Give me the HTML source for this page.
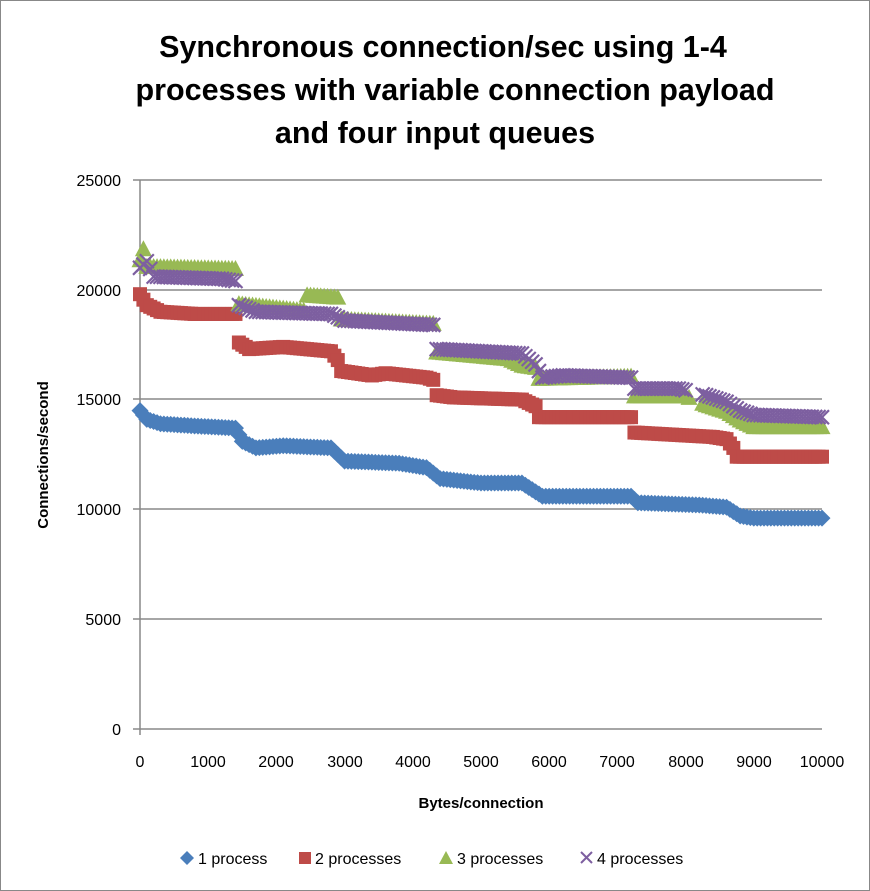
<!DOCTYPE html>
<html><head><meta charset="utf-8"><style>
html,body{margin:0;padding:0;background:#fff;}
svg{display:block;font-family:"Liberation Sans",sans-serif;}
</style></head><body>
<svg id="s" width="870" height="891" viewBox="0 0 870 891" xmlns="http://www.w3.org/2000/svg">
<rect x="0.5" y="0.5" width="869" height="890" fill="#fff" stroke="#888"/>
<g font-weight="bold" font-size="30.5" text-anchor="middle" fill="#000">
<text x="443" y="57">Synchronous connection/sec using 1-4</text>
<text x="455" y="100">processes with variable connection payload</text>
<text x="435" y="143">and four input queues</text>
</g>
<g stroke="#888" stroke-width="1.5">
<line x1="133" y1="180" x2="822" y2="180"/>
<line x1="133" y1="290" x2="822" y2="290"/>
<line x1="133" y1="399" x2="822" y2="399"/>
<line x1="133" y1="509" x2="822" y2="509"/>
<line x1="133" y1="619" x2="822" y2="619"/>
<line x1="133" y1="729" x2="822" y2="729"/>
<line x1="140" y1="180" x2="140" y2="735"/>
</g>
<g font-size="16" fill="#000" text-anchor="end">
<text x="121" y="186">25000</text><text x="121" y="296">20000</text>
<text x="121" y="405">15000</text><text x="121" y="515">10000</text>
<text x="121" y="625">5000</text><text x="121" y="735">0</text>
</g>
<g font-size="16" fill="#000" text-anchor="middle">
<text x="140" y="767">0</text><text x="208" y="767">1000</text><text x="276" y="767">2000</text>
<text x="345" y="767">3000</text><text x="413" y="767">4000</text><text x="481" y="767">5000</text>
<text x="549" y="767">6000</text><text x="617" y="767">7000</text><text x="686" y="767">8000</text>
<text x="754" y="767">9000</text><text x="822" y="767">10000</text>
</g>
<text x="481" y="808" font-size="15" font-weight="bold" text-anchor="middle">Bytes/connection</text>
<text transform="translate(48,455) rotate(-90)" font-size="15" font-weight="bold" text-anchor="middle">Connections/second</text>
<g id="data"></g>
<g font-size="16" fill="#000">
<path d="M187 851 l7 7 -7 7 -7 -7z" fill="#4a7ebb"/><text x="198" y="864">1 process</text>
<rect x="299" y="852" width="12" height="12" fill="#be4b48"/><text x="315" y="864">2 processes</text>
<path d="M446 851 l7 13 h-14z" fill="#98b954"/><text x="457" y="864">3 processes</text>
<path d="M581 852 l11 11 M592 852 l-11 11" stroke="#7d5fa0" stroke-width="2"/><text x="597" y="864">4 processes</text>
</g>
</svg>
<script>
var S=[
{c:"#4a7ebb",t:"d",p:[[0,14500],[100,14100],[300,13900],[800,13800],[1400,13700],[1500,13100],[1700,12800],[2100,12900],[2800,12800],[3000,12200],[3800,12100],[4200,11900],[4400,11400],[5000,11200],[5600,11200],[5900,10600],[7200,10600],[7300,10300],[8200,10200],[8600,10100],[8800,9700],[9000,9600],[10000,9600]]},
{c:"#be4b48",t:"s",p:[[0,19800],[100,19300],[300,19000],[800,18900],[1400,18900],[1450,17600],[1600,17300],[2100,17400],[2800,17200],[2900,16800],[2950,16300],[3400,16100],[3600,16200],[4200,16000],[4300,15900],[4350,15200],[4600,15100],[5600,15000],[5800,14700],[5850,14200],[7200,14200],[7250,13500],[8400,13300],[8600,13200],[8700,12800],[8750,12400],[10000,12400]]},
{c:"#98b954",t:"t",gap:[8050,8250],p:[[0,21300],[50,21800],[100,21000],[1400,20900],[1450,19300],[2400,19000],[2450,19700],[2900,19600],[2950,18600],[4300,18400],[4350,17100],[5400,16800],[5600,16500],[5800,16400],[5850,15900],[7200,16000],[7250,15100],[8000,15100],[8300,14700],[8600,14400],[8800,14000],[9000,13700],[10000,13700]]},
{c:"#7d5fa0",t:"x",gap:[8000,8250],p:[[0,21000],[100,21300],[200,20600],[1200,20500],[1400,20400],[1450,19300],[1700,19000],[2800,18900],[3000,18600],[4300,18400],[4350,17300],[5600,17100],[5800,16600],[5900,16000],[6200,16100],[7200,16000],[7250,15500],[7900,15500],[8300,15200],[8600,14900],[8800,14500],[9000,14300],[10000,14200]]}
];
function val(p,x){for(var i=1;i<p.length;i++){if(x<=p[i][0]){var a=p[i-1],b=p[i];return a[1]+(b[1]-a[1])*(x-a[0])/(b[0]-a[0]);}}return p[p.length-1][1];}
var h="";
S.forEach(function(s){for(var x=0;x<=10000;x+=50){if(s.gap&&x>s.gap[0]&&x<s.gap[1])continue;
var v=val(s.p,x),X=140+x*0.0682,Y=729-v*0.02196;
if(s.t=="d")h+='<path d="M'+X+' '+(Y-8.5)+'l8.5 8.5 -8.5 8.5 -8.5 -8.5z" fill="'+s.c+'"/>';
else if(s.t=="s")h+='<rect x="'+(X-7)+'" y="'+(Y-7)+'" width="14" height="14" fill="'+s.c+'"/>';
else if(s.t=="t")h+='<path d="M'+X+' '+(Y-10)+'l8.5 16h-17z" fill="'+s.c+'"/>';
else h+='<path d="M'+(X-7)+' '+(Y-7)+'l14 14M'+(X+7)+' '+(Y-7)+'l-14 14" stroke="'+s.c+'" stroke-width="2.2"/>';
}});
document.getElementById("data").innerHTML=h;
</script>
</body></html>
